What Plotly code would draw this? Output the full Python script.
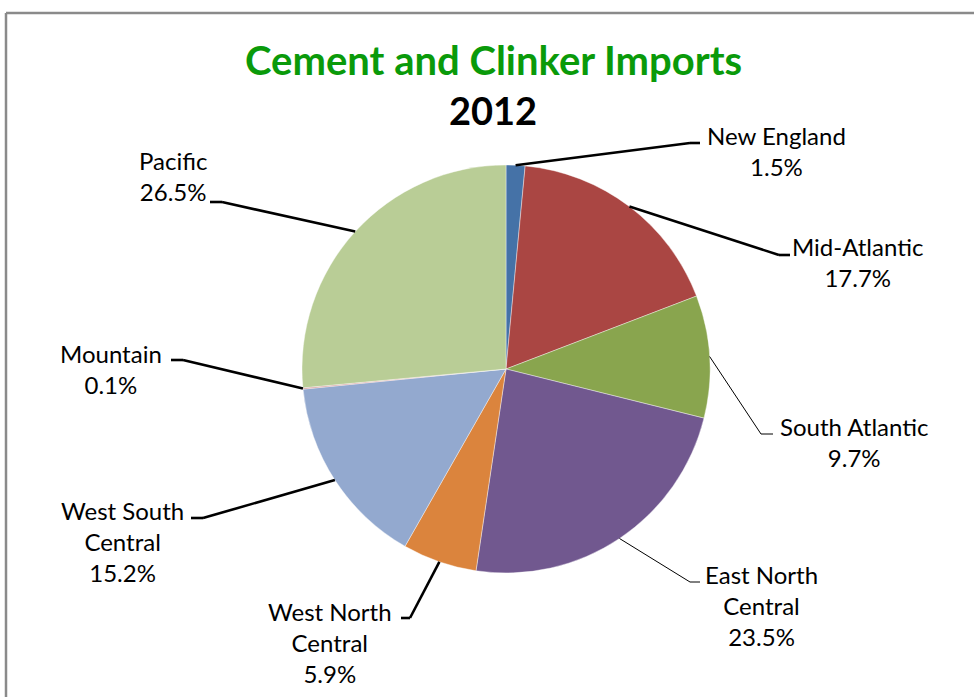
import math
import plotly.graph_objects as go

# Cement and clinker imports by census division, 2012 (share of total, %)
regions = ["New England", "Mid-Atlantic", "South Atlantic", "East North Central",
           "West North Central", "West South Central", "Mountain", "Pacific"]
shares = [1.5, 17.7, 9.7, 23.5, 5.9, 15.2, 0.1, 26.5]
label_lines = [["New England"], ["Mid-Atlantic"], ["South Atlantic"], ["East North", "Central"],
               ["West North", "Central"], ["West South", "Central"], ["Mountain"], ["Pacific"]]
colors = ["#4572A7", "#AA4643", "#89A54E", "#71588F", "#DB843D", "#93A9CF", "#D19392", "#B9CD96"]

W, H = 974, 697
FONT = "Lato"

# pie placement in pixels
cx, cy, r = 506, 369, 204

# label block centre (px), elbow of leader (px), end of horizontal stub (px), line width
label_pos = [(776, 151), (857, 262), (854, 442), (761, 605), (330, 642), (122, 541), (111, 369), (173, 176)]
elbows = [(690, 143), (779, 255), (761, 434), (690, 582), (410, 618), (203, 518), (183, 360), (222, 202)]
stubs = [(700, 143), (790, 255), (773, 434), (700, 582), (401, 618), (191, 518), (171, 360), (210, 202)]
widths = [2.6, 2.6, 1, 1, 2.6, 2.6, 2.6, 2.6]


def px(x, y):
    return x / W, 1 - y / H


fig = go.Figure()
fig.add_trace(go.Pie(
    labels=regions, values=shares, sort=False, direction="clockwise", rotation=0,
    marker=dict(colors=colors, line=dict(color="white", width=0.4)),
    textinfo="none", hoverinfo="label+percent", showlegend=False,
    domain=dict(x=[(cx - r) / W, (cx + r) / W], y=[1 - (cy + r) / H, 1 - (cy - r) / H]),
))

shapes = []
annotations = []
total = sum(shares)
cum = 0.0
for i, v in enumerate(shares):
    mid = (cum + v / 2) / total * 2 * math.pi
    cum += v
    ex, ey = cx + r * math.sin(mid), cy - r * math.cos(mid)
    x0, y0 = px(ex, ey)
    x1, y1 = px(*elbows[i])
    x2, y2 = px(*stubs[i])
    line = dict(color="black", width=widths[i])
    shapes.append(dict(type="line", xref="paper", yref="paper", x0=x0, y0=y0, x1=x1, y1=y1, line=line))
    shapes.append(dict(type="line", xref="paper", yref="paper", x0=x1, y0=y1, x1=x2, y1=y2, line=line))
    lx, ly = px(*label_pos[i])
    text = "<br>".join(label_lines[i] + [f"{v:.1f}%"])
    annotations.append(dict(xref="paper", yref="paper", x=lx, y=ly, text=text, showarrow=False,
                            xanchor="center", yanchor="middle", align="center",
                            font=dict(family=FONT, size=24, color="black")))

# chart frame (top and left edges)
for (a, b, c, d) in [(6, 13, W, 13), (6, 13, 6, H)]:
    x0, y0 = px(a, b)
    x1, y1 = px(c, d)
    shapes.append(dict(type="line", xref="paper", yref="paper", x0=x0, y0=y0, x1=x1, y1=y1,
                       line=dict(color="#8a8a8a", width=2.5)))

tx, ty = px(493, 60)
annotations.append(dict(xref="paper", yref="paper", x=tx, y=ty, text="<b>Cement and Clinker Imports</b>",
                        showarrow=False, xanchor="center", yanchor="middle",
                        font=dict(family=FONT, size=40, color="#0A9A0A")))
tx, ty = px(493, 110)
annotations.append(dict(xref="paper", yref="paper", x=tx, y=ty, text="<b>2012</b>",
                        showarrow=False, xanchor="center", yanchor="middle",
                        font=dict(family=FONT, size=38, color="black")))

fig.update_layout(
    width=W, height=H, margin=dict(l=0, r=0, t=0, b=0),
    paper_bgcolor="white", plot_bgcolor="white",
    shapes=shapes, annotations=annotations,
)
fig.write_html("out.html")
